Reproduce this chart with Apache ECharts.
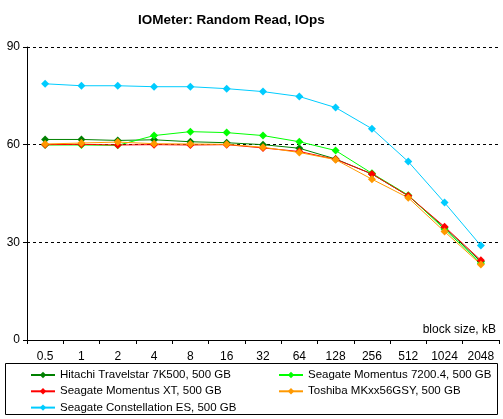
<!DOCTYPE html>
<html><head><meta charset="utf-8">
<script src="https://cdn.jsdelivr.net/npm/echarts@6/dist/echarts.min.js"></script>
<style>html,body{margin:0;padding:0;background:#fff}#c{width:503px;height:419px}</style>
</head><body><div id="c"></div>
<script>
var categories = ['0.5','1','2','4','8','16','32','64','128','256','512','1024','2048'];
var hitachi = [61.6,61.6,61.3,61.5,60.9,60.6,60.0,58.9,55.6,51.0,44.3,34.5,24.1];
var momentus72 = [59.9,59.9,59.8,62.8,64.0,63.7,62.8,60.9,58.2,51.2,44.5,34.0,23.6];
var momentusXT = [60.0,60.1,59.9,60.0,59.9,60.0,59.0,57.9,55.5,51.0,44.3,34.8,24.5];
var toshiba = [60.2,60.5,60.8,60.3,60.2,60.1,59.2,57.6,55.4,49.4,43.7,33.3,23.2];
var constellation = [78.7,78.1,78.1,77.8,77.8,77.2,76.3,74.8,71.4,64.9,54.8,42.2,29.0];
var names = ['Hitachi Travelstar 7K500, 500 GB','Seagate Momentus 7200.4, 500 GB','Seagate Momentus XT, 500 GB','Toshiba MKxx56GSY, 500 GB','Seagate Constellation ES, 500 GB'];
var colors = ['#008000','#00ff00','#ff0000','#ff9900','#00ccff'];
var yTicks = [0,30,60,90];

var font = 'Liberation Sans';
var chart = echarts.init(document.getElementById('c'));
var data = [hitachi, momentus72, momentusXT, toshiba, constellation];
var series = data.map(function(d,i){
  return {name:names[i], type:'line', data:d, symbol:'diamond', symbolSize:8,
    lineStyle:{color:colors[i], width:1}, itemStyle:{color:colors[i]}, animation:false};
});
var legText = {fontFamily:font, fontSize:11.5, color:'#000'};
chart.setOption({
  animation:false,
  title:{text:'IOMeter: Random Read, IOps', left:133, top:8,
    textStyle:{fontFamily:font, fontSize:13.5, fontWeight:'bold', color:'#000'}},
  grid:{left:27, right:4, top:47, bottom:79, containLabel:false},
  xAxis:{type:'category', data:categories, boundaryGap:true,
    axisLine:{lineStyle:{color:'#000', width:1}},
    axisTick:{show:true, length:4, interval:0, lineStyle:{color:'#000'}},
    axisLabel:{fontFamily:font, fontSize:12, color:'#000', margin:11, interval:0},
    splitLine:{show:false}},
  yAxis:{type:'value', min:0, max:90, interval:30,
    axisLine:{show:true, lineStyle:{color:'#000'}},
    axisTick:{show:true, length:4, lineStyle:{color:'#000'}},
    axisLabel:{fontFamily:font, fontSize:12, color:'#000', margin:7},
    splitLine:{show:true, lineStyle:{color:'#000', type:[3,3], width:1}}},
  legend:[
    {data:[names[0],names[2],names[4]], orient:'vertical', left:30, top:369, itemGap:4.3,
     itemWidth:24, itemHeight:8, textStyle:legText, padding:0},
    {data:[names[1],names[3]], orient:'vertical', left:278, top:369, itemGap:4.3,
     itemWidth:24, itemHeight:8, textStyle:legText, padding:0}
  ],
  graphic:[
    {type:'rect', shape:{x:5.5, y:363.5, width:492, height:51}, style:{fill:'none', stroke:'#000', lineWidth:1}},
    {type:'text', right:7, top:324, style:{text:'block size, kB', font:'12px '+font, fill:'#000'}}
  ],
  series:series
});
</script></body></html>
